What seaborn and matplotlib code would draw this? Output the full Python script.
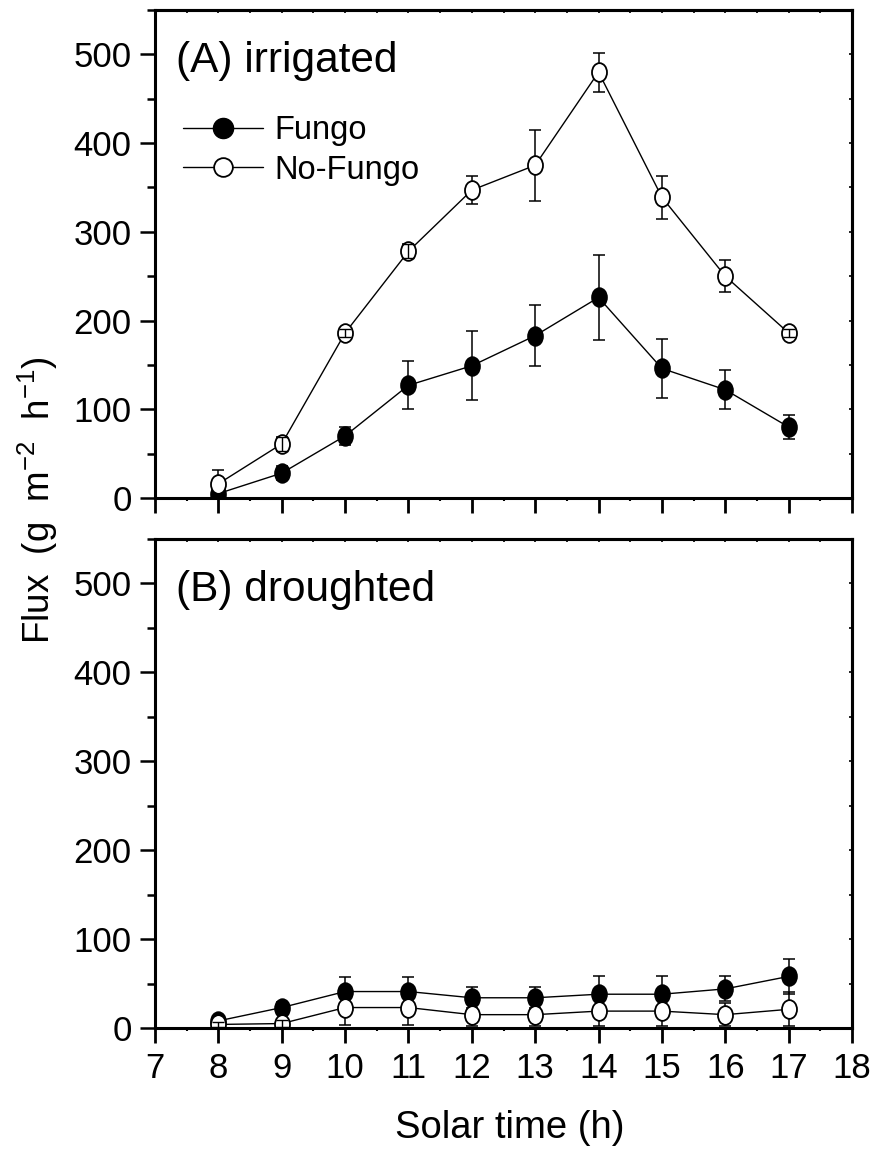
import numpy as np
import pandas as pd
import matplotlib
matplotlib.use("Agg")
import matplotlib.pyplot as plt
from matplotlib.path import Path
from matplotlib.transforms import Affine2D
from matplotlib.lines import Line2D
from matplotlib.ticker import MultipleLocator
import seaborn as sns

# ---- data -------------------------------------------------------------
hours = [8, 9, 10, 11, 12, 13, 14, 15, 16, 17]

irr_fungo = [5, 28, 70, 127, 149, 183, 226, 146, 122, 80]
irr_fungo_err = [4, 8, 10, 27, 39, 34, 48, 33, 22, 13]
irr_nofungo = [16, 61, 186, 278, 347, 375, 480, 339, 250, 186]
irr_nofungo_err = [16, 8, 5, 8, 16, 40, 22, 24, 18, 5]

dry_fungo = [8, 23, 41, 41, 34, 34, 38, 38, 44, 58]
dry_fungo_err = [3, 6, 16, 16, 12, 12, 20, 20, 14, 20]
dry_nofungo = [4, 5, 23, 23, 15, 15, 19, 19, 15, 21]
dry_nofungo_err = [3, 4, 20, 20, 13, 13, 17, 17, 13, 19]

panel_titles = ["(A) irrigated", "(B) droughted"]
series_names = ["Fungo", "No-Fungo"]
x_ticks = list(range(7, 19))
y_ticks = [0, 100, 200, 300, 400, 500]

# ---- style ------------------------------------------------------------
sns.set_theme(style="ticks")
plt.rcParams["font.family"] = ["Liberation Sans", "DejaVu Sans"]
plt.rcParams["mathtext.fontset"] = "custom"
plt.rcParams["mathtext.rm"] = "Liberation Sans"
plt.rcParams["mathtext.it"] = "Liberation Sans"
plt.rcParams["axes.linewidth"] = 2.2
for key in ("text.color", "axes.labelcolor", "xtick.color", "ytick.color",
            "axes.edgecolor"):
    plt.rcParams[key] = "black"

# slightly tall oval used for the data markers
oval = Path(Affine2D().scale(0.8, 1.0).transform_path(Path.unit_circle()).vertices,
            Path.unit_circle().codes)

W, H = 876, 1149
fig = plt.figure(figsize=(W / 100, H / 100), dpi=100)
ax_top = fig.add_axes([155 / W, 1 - 498 / H, 697 / W, 488 / H])
ax_bot = fig.add_axes([155 / W, 1 - 1028 / H, 697 / W, 489 / H])

panels = [
    (ax_top, irr_fungo, irr_fungo_err, irr_nofungo, irr_nofungo_err),
    (ax_bot, dry_fungo, dry_fungo_err, dry_nofungo, dry_nofungo_err),
]

MS = 13.5
for i, (ax, fv, fe, nv, ne) in enumerate(panels):
    fv, fe, nv, ne = map(np.asarray, (fv, fe, nv, ne))
    # error bars sit behind the markers
    for vals, errs in ((fv, fe), (nv, ne)):
        ax.errorbar(hours, vals, yerr=errs, fmt="none", ecolor="black",
                    elinewidth=1.1, capsize=4.5, capthick=1.1, zorder=1)
    df_f = pd.DataFrame({"hour": hours, "flux": fv})
    df_n = pd.DataFrame({"hour": hours, "flux": nv})
    sns.lineplot(data=df_f, x="hour", y="flux", ax=ax, color="black",
                 linewidth=1.0, marker=oval, markersize=MS,
                 markerfacecolor="black", markeredgecolor="black",
                 markeredgewidth=1.2, legend=False, zorder=2)
    sns.lineplot(data=df_n, x="hour", y="flux", ax=ax, color="black",
                 linewidth=1.0, marker=oval, markersize=MS,
                 markerfacecolor="white", markeredgecolor="black",
                 markeredgewidth=1.3, legend=False, zorder=2.5)
    # short open-marker bars whose caps fall inside the oval stay visible
    small = ne <= 9
    if small.any():
        ax.errorbar(np.asarray(hours)[small], nv[small], yerr=ne[small],
                    fmt="none", ecolor="black", elinewidth=1.0, capsize=4.5,
                    capthick=1.0, zorder=3)

    ax.set_xlim(7, 18)
    ax.set_ylim(0, 550)
    ax.set_xticks(x_ticks)
    ax.set_yticks(y_ticks)
    ax.xaxis.set_minor_locator(MultipleLocator(0.5))
    ax.yaxis.set_minor_locator(MultipleLocator(50))
    ax.set_xlabel("")
    ax.set_ylabel("")
    for s in ax.spines.values():
        s.set_visible(True)
        s.set_linewidth(2.2)
        s.set_color("black")
    ax.tick_params(axis="y", which="major", direction="out", length=10.8,
                   width=1.8, labelsize=25, pad=6, right=False)
    ax.tick_params(axis="y", which="minor", direction="out", length=5.8,
                   width=1.8, right=False)
    ax.tick_params(axis="x", which="major", direction="out", length=10.5,
                   width=2.0, labelsize=25, pad=7, top=False)
    ax.tick_params(axis="x", which="minor", direction="out", length=2.2,
                   width=1.5, top=False)
    if i == 0:
        ax.tick_params(axis="x", which="both", labelbottom=False)

    # tiny inward marks on the top and right frame
    top = ax.secondary_xaxis("top")
    top.set_xticks(x_ticks[1:-1])
    top.xaxis.set_minor_locator(MultipleLocator(0.5))
    top.tick_params(which="both", direction="in", length=2, width=1.2,
                    labeltop=False)
    top.spines["top"].set_linewidth(2.2)
    right = ax.secondary_yaxis("right")
    right.set_yticks(y_ticks[1:])
    right.yaxis.set_minor_locator(MultipleLocator(50))
    right.tick_params(which="both", direction="in", length=2, width=1.2,
                      labelright=False)
    right.spines["right"].set_linewidth(2.2)

    ax.text(0.03, 0.873, panel_titles[i], transform=ax.transAxes,
            fontsize=30.5, ha="left", va="baseline")

# legend in the upper panel
handles = [
    Line2D([], [], color="black", linewidth=1.0, marker="o", markersize=14.5,
           markerfacecolor="black", markeredgecolor="black"),
    Line2D([], [], color="black", linewidth=1.0, marker="o", markersize=13.5,
           markerfacecolor="white", markeredgecolor="black",
           markeredgewidth=1.3),
]
ax_top.legend(handles, series_names, loc="upper left",
              bbox_to_anchor=(0.040, 0.784), frameon=False, fontsize=23.5,
              handlelength=2.45, handletextpad=0.35, labelspacing=0.25,
              borderpad=0, borderaxespad=0, numpoints=1)

fig.text(38 / W, 1 - 500 / H, r"Flux  (g  m$^{-2}$  h$^{-1}$)", rotation=90,
         fontsize=26.5, ha="center", va="center")
fig.text(510 / W, 1 - 1138 / H, "Solar time (h)", fontsize=27.5,
         ha="center", va="baseline")

fig.savefig("out.png", dpi=100)
